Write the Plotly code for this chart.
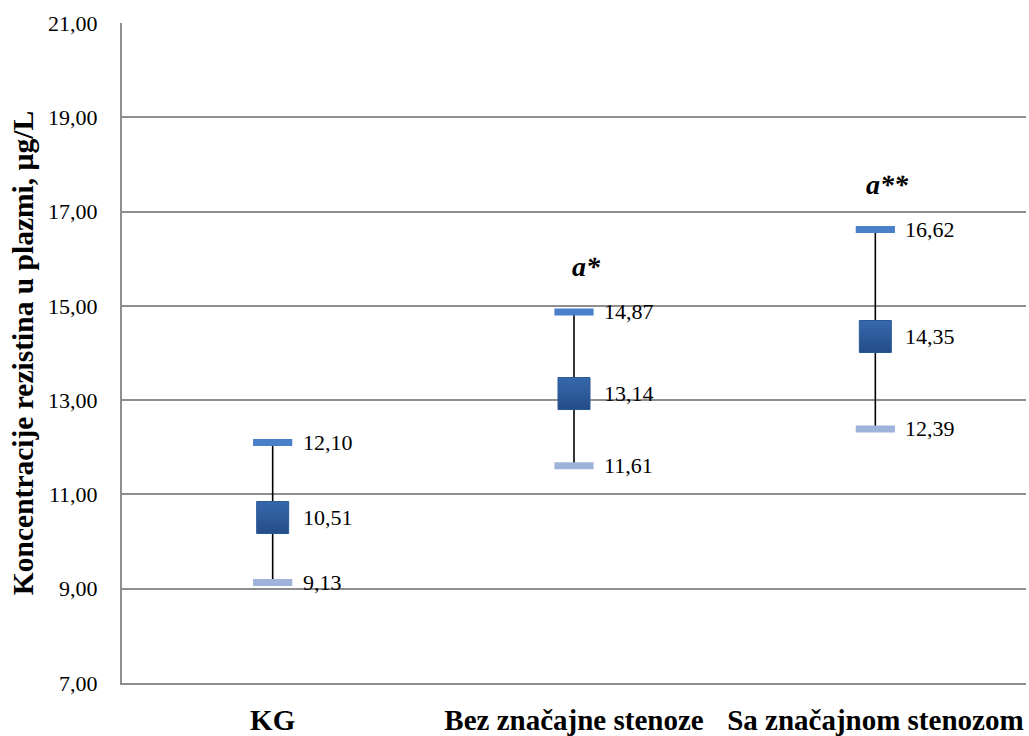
import plotly.graph_objects as go

# Plasma resistin concentration by group: mean with low/high bounds
groups = ["KG", "Bez značajne stenoze", "Sa značajnom stenozom"]
mean_vals = [10.51, 13.14, 14.35]
high_vals = [12.10, 14.87, 16.62]
low_vals = [9.13, 11.61, 12.39]
sig_marks = ["", "a*", "a**"]

y_ticks = [7, 9, 11, 13, 15, 17, 19, 21]

FONT = "Liberation Serif, Times New Roman, serif"


def fmt(v):
    return f"{v:.2f}".replace(".", ",")


fig = go.Figure()

# Mean markers with the low-high span as a black whisker
fig.add_trace(go.Scatter(
    x=groups, y=mean_vals, mode="markers",
    marker=dict(symbol="square", size=32, color="#3768ad",
                gradient=dict(type="vertical", color="#244d88"),
                line=dict(width=1, color="#2a5896")),
    error_y=dict(type="data", symmetric=False,
                 array=[h - m for h, m in zip(high_vals, mean_vals)],
                 arrayminus=[m - l for m, l in zip(mean_vals, low_vals)],
                 color="black", thickness=1.6, width=0),
    hoverinfo="skip", showlegend=False,
))

# Upper bound dash
fig.add_trace(go.Scatter(
    x=groups, y=high_vals, mode="markers",
    marker=dict(symbol="line-ew", size=28,
                line=dict(width=7, color="#4a7fc9")),
    hoverinfo="skip", showlegend=False,
))

# Lower bound dash
fig.add_trace(go.Scatter(
    x=groups, y=low_vals, mode="markers",
    marker=dict(symbol="line-ew", size=28,
                line=dict(width=7, color="#9fb3da")),
    hoverinfo="skip", showlegend=False,
))

annotations = []
for g, m, h, l, s in zip(groups, mean_vals, high_vals, low_vals, sig_marks):
    for v in (m, h, l):
        annotations.append(dict(
            x=g, y=v, text=fmt(v), showarrow=False,
            xanchor="left", yanchor="middle", xshift=28,
            font=dict(family=FONT, size=22, color="black"),
        ))
    if s:
        annotations.append(dict(
            x=g, y=h, text=f"<b><i>{s}</i></b>", showarrow=False,
            xanchor="center", yanchor="middle", xshift=12, yshift=45,
            font=dict(family=FONT, size=28, color="black"),
        ))

fig.update_layout(
    width=1029, height=736,
    margin=dict(l=122, r=3, t=23, b=53),
    paper_bgcolor="white", plot_bgcolor="white",
    separators=",.",
    font=dict(family=FONT, color="black"),
    annotations=annotations,
    xaxis=dict(
        type="category", range=[-0.5, 2.5],
        tickvals=groups, ticktext=[f"<b>{g}</b>" for g in groups],
        showgrid=False, zeroline=False, automargin=False,
        showline=True, linecolor="#8e8e8e", linewidth=2,
        tickfont=dict(family=FONT, size=29, color="black"),
        ticklabelstandoff=10,
    ),
    yaxis=dict(
        range=[7, 21], tickvals=y_ticks, tickformat=".2f",
        showgrid=True, gridcolor="#8e8e8e", gridwidth=1.5,
        zeroline=False, automargin=False,
        showline=True, linecolor="#8e8e8e", linewidth=2,
        tickfont=dict(family=FONT, size=22, color="black"),
        ticklabelstandoff=18,
        title=dict(text="<b>Koncentracije rezistina u plazmi, µg/L</b>",
                   font=dict(family=FONT, size=29.5, color="black"),
                   standoff=6),
    ),
)

fig.write_html("out.html")
